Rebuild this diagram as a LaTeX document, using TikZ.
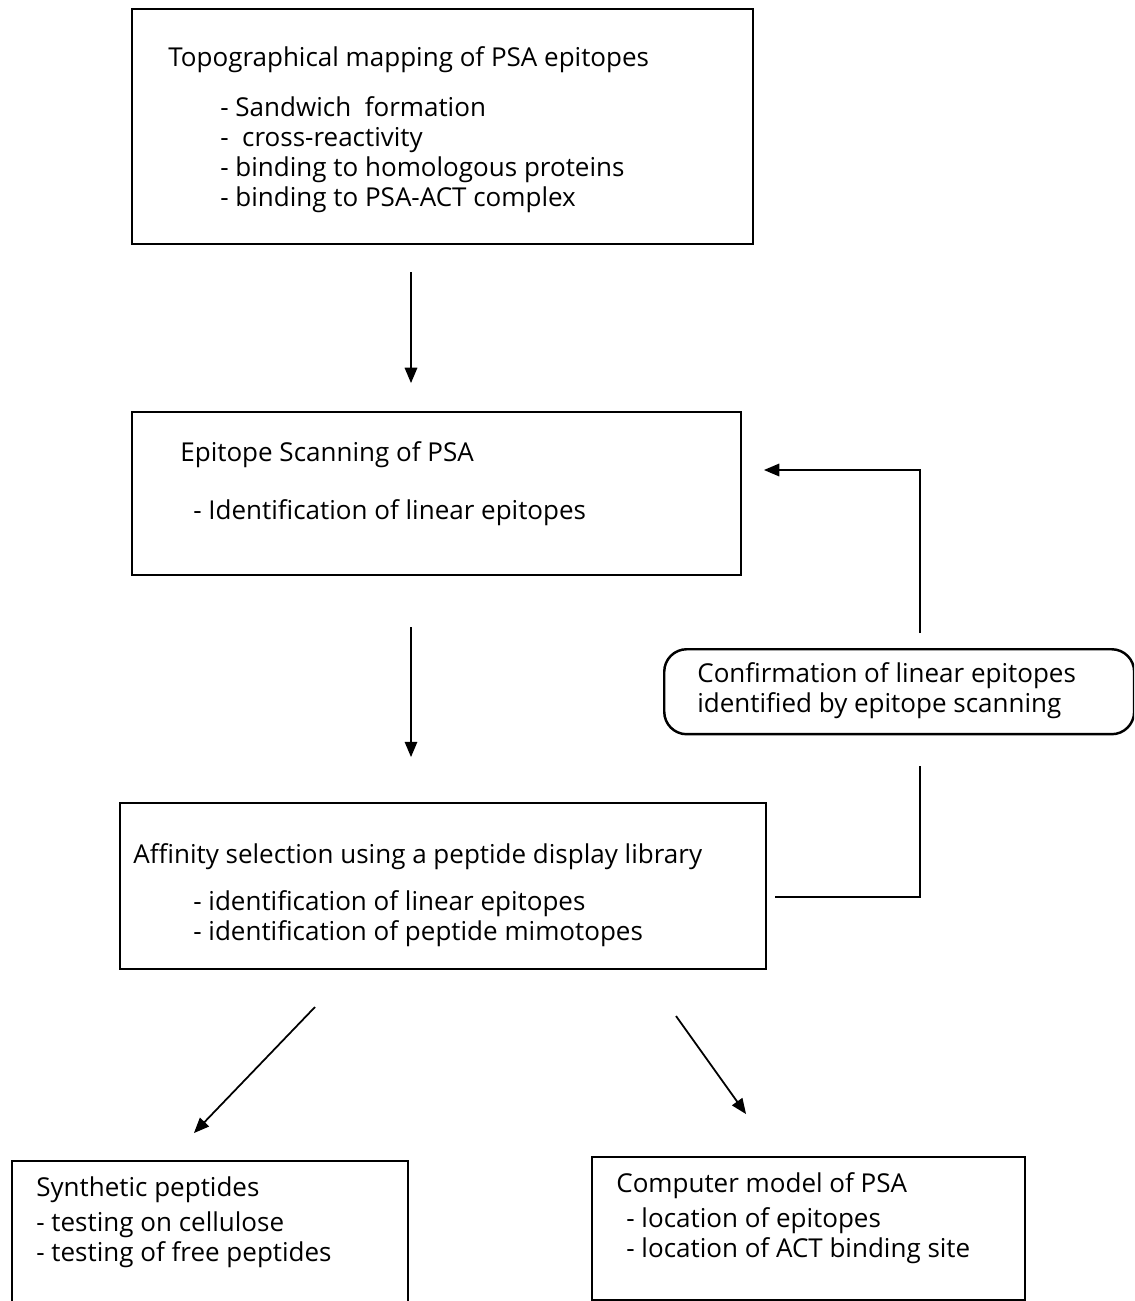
\documentclass[tikz,border=0pt]{standalone}
\usepackage{fontspec}
\setmainfont{Open Sans}
\usetikzlibrary{arrows}

\tikzset{
  box/.style={draw, line width=1.4pt, anchor=north west, inner sep=0pt},
  txt/.style={anchor=base west, inner sep=0pt, font=\fontsize{14.8}{17}\selectfont},
  link/.style={line width=1pt}
}

\begin{document}
\begin{tikzpicture}[x=0.02cm, y=-0.02cm]
      \clip (0,0) rectangle (1134,1301);
      \fill[white] (0,0) rectangle (1134,1301);
      %%%%%%%%%%%%%%%%%%%%%%%%%%%%%%%%%%%%%%%%%%%%%%%
      \node[box, minimum width=12.42cm, minimum height=4.70cm] at (131,8) (topo) {};
      \node[txt] at (168,67)  (topo0) {Topographical mapping of PSA epitopes};
      \node[txt] at (220,116) (topo1) {- Sandwich\ \ formation};
      \node[txt] at (220,146) (topo2) {-\ \ cross-reactivity};
      \node[txt] at (220,176) (topo3) {- binding to homologous proteins};
      \node[txt] at (220,206) (topo4) {- binding to PSA-ACT complex};
      %%%%%%%%%%%%%%%%%%%%%%%%%%%%%%%%%%%%%%%%%%%%%%%
      \coordinate (a1s) at (411,272);
      \coordinate (a1e) at (411,383);
      \draw[link, -triangle 45] (a1s) -- (a1e);
      %%%%%%%%%%%%%%%%%%%%%%%%%%%%%%%%%%%%%%%%%%%%%%%
      \node[box, minimum width=12.18cm, minimum height=3.26cm] at (131,411) (scan) {};
      \node[txt] at (180,461) (scan0) {Epitope Scanning of PSA};
      \node[txt] at (193,519) (scan1) {- Identification\ of linear epitopes};
      %%%%%%%%%%%%%%%%%%%%%%%%%%%%%%%%%%%%%%%%%%%%%%%
      \coordinate (a2s) at (411,627);
      \coordinate (a2e) at (411,757);
      \draw[link, -triangle 45] (a2s) -- (a2e);
      %%%%%%%%%%%%%%%%%%%%%%%%%%%%%%%%%%%%%%%%%%%%%%%
      \node[box, rounded corners=0.45cm, minimum width=9.40cm, minimum height=1.70cm] at (663,648) (conf) {};
      \node[txt] at (697,682) (conf0) {Confirmation of linear epitopes};
      \node[txt] at (697,712) (conf1) {identified by epitope scanning};
      %%%%%%%%%%%%%%%%%%%%%%%%%%%%%%%%%%%%%%%%%%%%%%%
      \node[box, minimum width=12.92cm, minimum height=3.32cm] at (119,802) (aff) {};
      \node[txt] at (133,863) (aff0) {Affinity selection using a peptide display library};
      \node[txt] at (193,910) (aff1) {- identification of linear epitopes};
      \node[txt] at (193,940) (aff2) {- identification of peptide mimotopes};
      %%%%%%%%%%%%%%%%%%%%%%%%%%%%%%%%%%%%%%%%%%%%%%%
      \coordinate (fbs) at (775,897);
      \coordinate (fbm) at (920,766);
      \coordinate (fbn) at (920,633);
      \coordinate (fbe) at (764,470);
      \draw[link] (fbs) -| (fbm);
      \draw[link, -triangle 45] (fbn) |- (fbe);
      %%%%%%%%%%%%%%%%%%%%%%%%%%%%%%%%%%%%%%%%%%%%%%%
      \coordinate (a3s) at (315,1007);
      \coordinate (a3e) at (194,1133);
      \coordinate (a4s) at (676,1016);
      \coordinate (a4e) at (746,1114);
      \draw[link, -triangle 45] (a3s) -- (a3e);
      \draw[link, -triangle 45] (a4s) -- (a4e);
      %%%%%%%%%%%%%%%%%%%%%%%%%%%%%%%%%%%%%%%%%%%%%%%
      \node[box, minimum width=7.92cm, minimum height=3.40cm] at (11,1160) (synth) {};
      \node[txt] at (36,1196)  (synth0) {Synthetic peptides};
      \node[txt] at (36,1231)  (synth1) {- testing on cellulose};
      \node[txt] at (36,1261)  (synth2) {- testing of free peptides};
      %%%%%%%%%%%%%%%%%%%%%%%%%%%%%%%%%%%%%%%%%%%%%%%
      \node[box, minimum width=8.66cm, minimum height=2.86cm] at (591,1156) (model) {};
      \node[txt] at (616,1192) (model0) {Computer model of PSA};
      \node[txt] at (626,1227) (model1) {- location of epitopes};
      \node[txt] at (626,1257) (model2) {- location of ACT binding site};
      %%%%%%%%%%%%%%%%%%%%%%%%%%%%%%%%%%%%%%%%%%%%%%%
\end{tikzpicture}
\end{document}
